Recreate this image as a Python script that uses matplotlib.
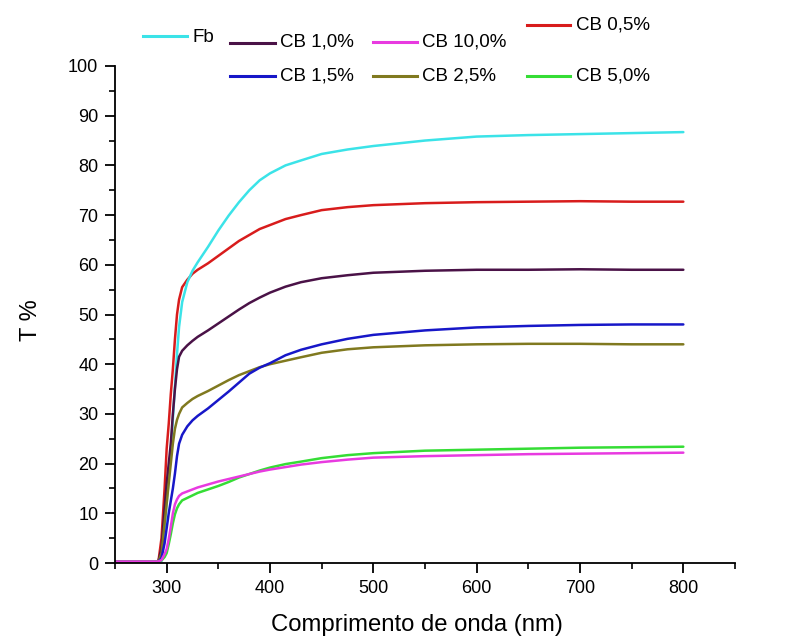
import matplotlib
matplotlib.use("Agg")
import matplotlib.pyplot as plt
from matplotlib.lines import Line2D
from matplotlib.ticker import MultipleLocator

plt.rcParams['font.family'] = ['Liberation Sans', 'DejaVu Sans']

wavelength = [250, 292, 295, 298, 300, 302, 304, 306, 308, 310, 312, 315, 320, 325, 330,
              340, 350, 360, 370, 380, 390, 400, 415, 430, 450, 475, 500, 550, 600,
              650, 700, 750, 800]

fb =     [0.3, 0.3, 0.4, 7.0, 12.0, 17.0, 23.0, 29.0, 35.5, 42.0, 47.5, 52.5, 56.5, 58.8, 60.5,
          63.6, 66.9, 69.9, 72.6, 75.0, 77.0, 78.4, 80.0, 81.0, 82.3, 83.2, 83.9, 85.0, 85.8,
          86.1, 86.3, 86.5, 86.7]
cb_05 =  [0.3, 0.3, 5.0, 15.0, 23.0, 28.0, 34.0, 39.0, 45.0, 50.0, 53.0, 55.5, 57.0, 58.2, 59.0,
          60.3, 61.8, 63.3, 64.8, 66.0, 67.2, 68.0, 69.2, 70.0, 71.0, 71.6, 72.0, 72.4, 72.6,
          72.7, 72.8, 72.7, 72.7]
cb_10 =  [0.3, 0.3, 3.0, 11.0, 16.0, 20.0, 24.0, 30.0, 35.0, 39.0, 41.5, 42.7, 43.8, 44.7, 45.5,
          46.8, 48.2, 49.6, 51.0, 52.3, 53.4, 54.4, 55.6, 56.5, 57.3, 57.9, 58.4, 58.8, 59.0,
          59.0, 59.1, 59.0, 59.0]
cb_15 =  [0.3, 0.3, 1.0, 4.0, 7.0, 10.0, 12.5, 15.0, 18.0, 21.5, 24.0, 25.8, 27.5, 28.7, 29.6,
          31.1, 32.8, 34.5, 36.3, 38.1, 39.3, 40.2, 41.8, 42.9, 44.0, 45.1, 45.9, 46.8, 47.4,
          47.7, 47.9, 48.0, 48.0]
cb_25 =  [0.3, 0.3, 2.0, 8.0, 12.0, 16.0, 20.0, 24.0, 27.0, 28.8, 30.0, 31.3, 32.2, 33.0, 33.6,
          34.6, 35.7, 36.8, 37.8, 38.6, 39.4, 40.0, 40.7, 41.4, 42.3, 43.0, 43.4, 43.8, 44.0,
          44.1, 44.1, 44.0, 44.0]
cb_50 =  [0.3, 0.3, 0.5, 1.2, 2.0, 3.8, 5.8, 8.0, 9.8, 11.0, 11.8, 12.6, 13.1, 13.6, 14.1,
          14.8, 15.5, 16.3, 17.2, 17.9, 18.6, 19.2, 19.9, 20.4, 21.1, 21.7, 22.1, 22.6, 22.8,
          23.0, 23.2, 23.3, 23.4]
cb_100 = [0.3, 0.3, 0.6, 1.8, 2.8, 4.8, 7.3, 10.0, 11.8, 12.8, 13.5, 14.0, 14.4, 14.8, 15.2,
          15.8, 16.4, 16.9, 17.4, 17.9, 18.4, 18.8, 19.3, 19.8, 20.3, 20.8, 21.2, 21.5, 21.7,
          21.9, 22.0, 22.1, 22.2]

labels = ["Fb", "CB 1,0%", "CB 10,0%", "CB 0,5%", "CB 1,5%", "CB 2,5%", "CB 5,0%"]
series = [fb, cb_10, cb_100, cb_05, cb_15, cb_25, cb_50]
colors = ["#3BE3E8", "#4A1247", "#E83AE0", "#D81C1C", "#1717C8", "#80791F", "#35DD35"]

W, H = 787, 638
fig = plt.figure(figsize=(W / 100, H / 100), dpi=100)
ax = fig.add_axes([115 / W, 1 - 563 / H, (735 - 115) / W, (563 - 66) / H])

# draw order: back to front
order = [3, 0, 1, 5, 4, 6, 2]
for i in order:
    ax.plot(wavelength, series[i], color=colors[i], lw=1.8,
            solid_joinstyle='round', solid_capstyle='round')

ax.set_xlim(250, 850)
ax.set_ylim(0, 100)
ax.spines['top'].set_visible(False)
ax.spines['right'].set_visible(False)
for s in ['left', 'bottom']:
    ax.spines[s].set_linewidth(1.3)
ax.xaxis.set_major_locator(MultipleLocator(100))
ax.xaxis.set_minor_locator(MultipleLocator(50))
ax.yaxis.set_major_locator(MultipleLocator(10))
ax.yaxis.set_minor_locator(MultipleLocator(5))
ax.set_xticks([300, 400, 500, 600, 700, 800])
ax.tick_params(which='major', direction='out', length=7, width=1.3, labelsize=13, pad=5)
ax.tick_params(which='minor', direction='out', length=4, width=1.2)

fig.text(417 / W, 1 - 625 / H, "Comprimento de onda (nm)", fontsize=17.2,
         ha='center', va='center')
fig.text(31 / W, 1 - 320 / H, "T %", fontsize=17, rotation=90,
         ha='center', va='center')

# legend entries in figure pixel coordinates (from top)
leg = [
    (143, 187, 36, 192, 38),
    (230, 275, 43, 280, 42),
    (373, 417, 42, 422, 42),
    (527, 570, 25, 576, 25),
    (230, 275, 76, 280, 76),
    (373, 417, 76, 422, 76),
    (527, 570, 76, 576, 76),
]
for (x0, x1, yl, xt, yt), lab, c in zip(leg, labels, colors):
    fig.add_artist(Line2D([x0 / W, x1 / W], [1 - yl / H, 1 - yl / H],
                          transform=fig.transFigure, color=c, lw=2.2))
    fig.text(xt / W, 1 - yt / H, lab, fontsize=13.5, va='center', ha='left')

fig.savefig("out.png", dpi=100)
